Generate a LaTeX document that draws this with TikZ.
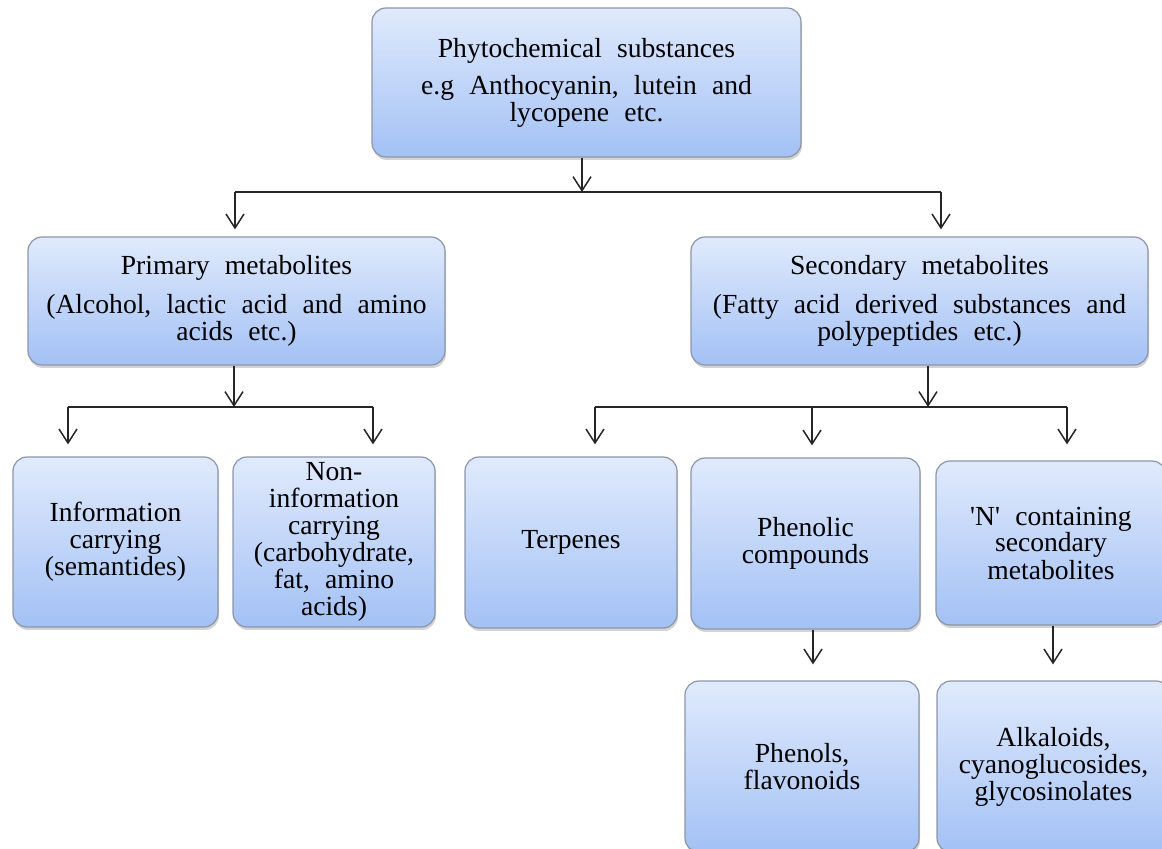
\documentclass[tikz,border=0pt]{standalone}
\usepackage{fontspec}
\setmainfont{Liberation Serif}
\usetikzlibrary{arrows.meta,shadows}
\definecolor{boxtop}{RGB}{224,234,252}
\definecolor{boxbot}{RGB}{163,193,245}
\definecolor{boxedge}{RGB}{140,150,165}
\newcommand{\boxfont}{\fontsize{13.8}{13.5}\selectfont\spaceskip=0.55em\relax}
\begin{document}
\begin{tikzpicture}[x=0.5pt,y=-0.5pt,
	box/.style={draw=boxedge,line width=0.6pt,rounded corners=7pt,top color=boxtop,bottom color=boxbot,
		align=center,inner sep=0pt,drop shadow={shadow xshift=0.5pt,shadow yshift=-1.5pt,opacity=0.35},
		font={\boxfont}},
	arr/.style={-{Straight Barb[length=7pt,width=9pt]},line width=0.75pt,draw=black!85},
	link/.style={line width=0.75pt,draw=black!85}]
	\useasboundingbox (0,0) rectangle (1162,849);
	\clip (0,0) rectangle (1162,849);
	% boxes
	\node[box,minimum width=214.5pt,minimum height=74.5pt] (phyto) at (586.5,82.5)
		{Phytochemical substances\\[5pt]e.g Anthocyanin, lutein and\\lycopene etc.};
	\node[box,minimum width=208.5pt,minimum height=64pt] (prim) at (236.5,301)
		{Primary metabolites\\[6pt](Alcohol, lactic acid and amino\\acids etc.)};
	\node[box,minimum width=228.5pt,minimum height=64pt] (sec) at (919.5,301)
		{Secondary metabolites\\[6pt](Fatty acid derived substances and\\polypeptides etc.)};
	\node[box,minimum width=102.5pt,minimum height=85pt] (info) at (115.5,542)
		{Information\\carrying\\(semantides)};
	\node[box,minimum width=101pt,minimum height=85pt] (noninfo) at (334,542)
		{Non-\\information\\carrying\\(carbohydrate,\\fat, amino\\acids)};
	\node[box,minimum width=106pt,minimum height=85.5pt] (terp) at (571,542.5) {Terpenes};
	\node[box,minimum width=114.5pt,minimum height=85.5pt] (phenc) at (805.5,543.5)
		{Phenolic\\compounds};
	\node[box,minimum width=115pt,minimum height=82pt] (ncont) at (1051,543)
		{\textquotesingle N\textquotesingle\ containing\\secondary\\metabolites};
	\node[box,minimum width=117pt,minimum height=85.5pt] (phenols) at (802,766.5)
		{Phenols,\\flavonoids};
	\node[box,minimum width=116.5pt,minimum height=85.5pt] (alk) at (1053.5,766.5)
		{Alkaloids,\\cyanoglucosides,\\glycosinolates};
	% junctions
	\coordinate (j1) at (582,192);
	\coordinate (j1l) at (235,192);
	\coordinate (j1r) at (941,192);
	\coordinate (j2) at (234,407);
	\coordinate (j2l) at (68,407);
	\coordinate (j2r) at (373,407);
	\coordinate (j3) at (928,407);
	\coordinate (j3l) at (595,407);
	\coordinate (j3m) at (812,407);
	\coordinate (j3r) at (1067,407);
	\coordinate (j4) at (813,0);
	\coordinate (j5) at (1053,0);
	% connectors
	\draw[arr] (phyto.south -| j1) -- (j1);
	\draw[link] (j1l) -- (j1r);
	\draw[arr,shorten >=3.5pt] (j1l) -- (j1l |- prim.north);
	\draw[arr,shorten >=3.5pt] (j1r) -- (j1r |- sec.north);
	\draw[arr] (prim.south -| j2) -- (j2);
	\draw[link] (j2l) -- (j2r);
	\draw[arr,shorten >=6pt] (j2l) -- (j2l |- info.north);
	\draw[arr,shorten >=6pt] (j2r) -- (j2r |- noninfo.north);
	\draw[arr] (sec.south -| j3) -- (j3);
	\draw[link] (j3l) -- (j3r);
	\draw[arr,shorten >=6pt] (j3l) -- (j3l |- terp.north);
	\draw[arr,shorten >=6pt] (j3m) -- (j3m |- phenc.north);
	\draw[arr,shorten >=8pt] (j3r) -- (j3r |- ncont.north);
	\draw[arr,shorten >=8pt] (phenc.south -| j4) -- (j4 |- phenols.north);
	\draw[arr,shorten >=8pt] (ncont.south -| j5) -- (j5 |- alk.north);
\end{tikzpicture}
\end{document}
